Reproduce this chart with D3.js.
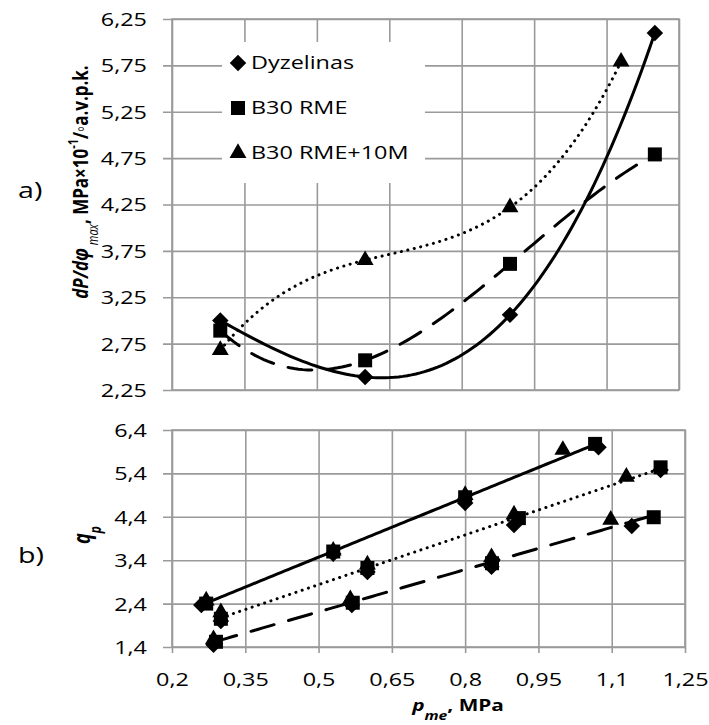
<!DOCTYPE html>
<html>
<head>
<meta charset="utf-8">
<script src="https://cdn.jsdelivr.net/npm/d3@7"></script>
<style>
  body { margin: 0; background: #fff; }
  text { font-family: "Open Sans", sans-serif; fill: #000; }
</style>
</head>
<body>
<div id="chart"></div>
<script>
// ---- data ----
const fuels = ["Dyzelinas", "B30 RME", "B30 RME+10M"];
const xTicks = [0.2, 0.35, 0.5, 0.65, 0.8, 0.95, 1.1, 1.25];
const topYTicks = [2.25, 2.75, 3.25, 3.75, 4.25, 4.75, 5.25, 5.75, 6.25];
const botYTicks = [1.4, 2.4, 3.4, 4.4, 5.4, 6.4];

// a) dP/dphi max
const topDyzX = [0.3, 0.6, 0.9, 1.2];
const topDyzY = [3.0, 2.39, 3.06, 6.10];
const topRmeX = [0.3, 0.6, 0.9, 1.2];
const topRmeY = [2.89, 2.57, 3.61, 4.79];
const topMX = [0.3, 0.6, 0.9, 1.13];
const topMY = [2.68, 3.65, 4.22, 5.79];

// b) q_p, three groups of points (upper / middle / lower line)
const upDyzX = [0.26, 0.53, 0.8, 1.073];
const upDyzY = [2.37, 3.55, 4.72, 6.0];
const upRmeX = [0.27, 0.53, 0.8, 1.066];
const upRmeY = [2.4, 3.6, 4.85, 6.08];
const upMX = [0.27, 0.53, 0.8, 1.0];
const upMY = [2.47, 3.62, 4.9, 5.94];

const midDyzX = [0.3, 0.6, 0.9, 1.2];
const midDyzY = [2.0, 3.13, 4.21, 5.48];
const midRmeX = [0.3, 0.6, 0.91, 1.2];
const midRmeY = [2.05, 3.22, 4.37, 5.54];
const midMX = [0.3, 0.6, 0.9, 1.13];
const midMY = [2.2, 3.3, 4.45, 5.32];

const lowDyzX = [0.285, 0.568, 0.854, 1.141];
const lowDyzY = [1.45, 2.37, 3.25, 4.19];
const lowRmeX = [0.29, 0.57, 0.855, 1.186];
const lowRmeY = [1.52, 2.42, 3.33, 4.39];
const lowMX = [0.285, 0.565, 0.854, 1.098];
const lowMY = [1.58, 2.5, 3.47, 4.33];

// ---- look ----
const SX = 1.3;          // text in the picture is drawn wide
const FS = 18;
const gridColor = "#9a9a9a";
const dash = { solid: null, dashed: "24 15", dotted: "0.1 6.5" };

const svg = d3.select("#chart").append("svg")
  .attr("width", 709).attr("height", 725);

const xTop = d3.scaleLinear().domain([0.2, 1.25]).range([172, 679]);
const yTop = d3.scaleLinear().domain([2.25, 6.25]).range([390, 19]);
const xBot = d3.scaleLinear().domain([0.2, 1.25]).range([172, 685]);
const yBot = d3.scaleLinear().domain([1.4, 6.4]).range([647, 430]);

const fmt = d => String(d).replace(".", ",");

// least squares polynomial (Excel-like trendline)
function polyfit(xs, ys, deg) {
  const n = deg + 1;
  const A = d3.range(n).map(i => {
    const row = d3.range(n).map(j => d3.sum(xs, x => Math.pow(x, i + j)));
    row.push(d3.sum(xs, (x, k) => ys[k] * Math.pow(x, i)));
    return row;
  });
  for (let c = 0; c < n; c++) {
    let p = c;
    for (let r = c + 1; r < n; r++) if (Math.abs(A[r][c]) > Math.abs(A[p][c])) p = r;
    [A[c], A[p]] = [A[p], A[c]];
    for (let r = 0; r < n; r++) {
      if (r === c) continue;
      const f = A[r][c] / A[c][c];
      for (let k = c; k <= n; k++) A[r][k] -= f * A[c][k];
    }
  }
  return d3.range(n).map(i => A[i][n] / A[i][i]);
}
const polyVal = (co, x) => co.reduce((s, c, i) => s + c * Math.pow(x, i), 0);

function stretchText(sel) {
  sel.each(function () {
    const t = d3.select(this);
    const x = +t.attr("x") || 0, y = +t.attr("y") || 0;
    t.attr("x", 0).attr("y", 0)
     .attr("transform", `translate(${x},${y}) scale(${SX},1)`);
  });
}

function marker(kind) {
  if (kind === 0) return d3.symbol(d3.symbolSquare, 136)();
  if (kind === 1) return d3.symbol(d3.symbolSquare, 196)();
  return d3.symbol(d3.symbolTriangle, 124)();
}
function drawMarkers(g, xs, ys, kind, xs_, ys_) {
  g.append("g").selectAll("path")
    .data(xs.map((x, i) => [x, ys[i]]))
    .join("path")
    .attr("d", marker(kind))
    .attr("fill", "#000")
    .attr("transform", d => `translate(${xs_(d[0])},${ys_(d[1])})` + (kind === 0 ? " rotate(45)" : ""));
}
function drawCurve(g, xs, ys, deg, style, xs_, ys_) {
  const co = polyfit(xs, ys, deg);
  const x0 = d3.min(xs), x1 = d3.max(xs);
  const pts = d3.range(0, 101).map(i => x0 + (x1 - x0) * i / 100);
  g.append("path")
    .attr("d", d3.line().x(x => xs_(x)).y(x => ys_(polyVal(co, x)))(pts))
    .attr("fill", "none")
    .attr("stroke", "#000")
    .attr("stroke-width", 3)
    .attr("stroke-linecap", "round")
    .attr("stroke-dasharray", dash[style]);
}

// ================= panel a =================
const ga = svg.append("g");
ga.append("g")
  .attr("transform", "translate(163,0)")
  .call(d3.axisLeft(yTop).tickValues(topYTicks).tickSize(-(679 - 163)).tickPadding(16).tickFormat(fmt))
  .call(a => a.select(".domain").remove())
  .call(a => a.selectAll("line").attr("stroke", gridColor).attr("stroke-width", 1.6))
  .call(a => a.selectAll("text").attr("font-size", FS).attr("font-family", "Open Sans").attr("dy", "0.36em").call(stretchText));
ga.append("g")
  .attr("transform", "translate(0,19)")
  .call(d3.axisBottom(xTop).tickValues(xTicks).tickSize(371).tickFormat(""))
  .call(a => a.select(".domain").remove())
  .call(a => a.selectAll("line").attr("stroke", gridColor).attr("stroke-width", 1.6));
ga.append("rect")
  .attr("x", 172).attr("y", 19).attr("width", 679 - 172).attr("height", 371)
  .attr("fill", "none").attr("stroke", gridColor).attr("stroke-width", 1.6);

// legend
const lg = ga.append("g");
lg.append("rect").attr("x", 222).attr("y", 42).attr("width", 203).attr("height", 141).attr("fill", "#fff");
fuels.forEach((f, i) => {
  const y = 63 + i * 45;
  lg.append("path").attr("d", marker(i)).attr("fill", "#000")
    .attr("transform", `translate(238,${y})` + (i === 0 ? " rotate(45)" : ""));
  lg.append("text").attr("x", 251).attr("y", y).attr("dy", "0.36em")
    .attr("font-size", FS).text(f).call(stretchText);
});

drawCurve(ga, topDyzX, topDyzY, 3, "solid", xTop, yTop);
drawCurve(ga, topRmeX, topRmeY, 3, "dashed", xTop, yTop);
drawCurve(ga, topMX, topMY, 3, "dotted", xTop, yTop);
drawMarkers(ga, topDyzX, topDyzY, 0, xTop, yTop);
drawMarkers(ga, topRmeX, topRmeY, 1, xTop, yTop);
drawMarkers(ga, topMX, topMY, 2, xTop, yTop);

// ================= panel b =================
const gb = svg.append("g");
gb.append("g")
  .attr("transform", "translate(163,0)")
  .call(d3.axisLeft(yBot).tickValues(botYTicks).tickSize(-(685 - 163)).tickPadding(16).tickFormat(fmt))
  .call(a => a.select(".domain").remove())
  .call(a => a.selectAll("line").attr("stroke", gridColor).attr("stroke-width", 1.6))
  .call(a => a.selectAll("text").attr("font-size", FS).attr("dy", "0.36em").call(stretchText));
gb.append("g")
  .attr("transform", "translate(0,430)")
  .call(d3.axisBottom(xBot).tickValues(xTicks).tickSize(223).tickPadding(20).tickFormat(fmt))
  .call(a => a.select(".domain").remove())
  .call(a => a.selectAll("line").attr("stroke", gridColor).attr("stroke-width", 1.6))
  .call(a => a.selectAll("text").attr("font-size", FS).call(stretchText));
gb.append("rect")
  .attr("x", 172).attr("y", 430).attr("width", 685 - 172).attr("height", 217)
  .attr("fill", "none").attr("stroke", gridColor).attr("stroke-width", 1.6);

const groups = [
  { style: "solid", sets: [[upDyzX, upDyzY], [upRmeX, upRmeY], [upMX, upMY]] },
  { style: "dotted", sets: [[midDyzX, midDyzY], [midRmeX, midRmeY], [midMX, midMY]] },
  { style: "dashed", sets: [[lowDyzX, lowDyzY], [lowRmeX, lowRmeY], [lowMX, lowMY]] }
];
groups.forEach(gr => {
  const allX = gr.sets.flatMap(s => s[0]);
  const allY = gr.sets.flatMap(s => s[1]);
  drawCurve(gb, allX, allY, 1, gr.style, xBot, yBot);
});
groups.forEach(gr => {
  gr.sets.forEach((s, k) => drawMarkers(gb, s[0], s[1], k, xBot, yBot));
});

// ================= labels =================
const ylab = svg.append("text")
  .attr("transform", `translate(88,182) scale(${SX},1) rotate(-90)`)
  .attr("text-anchor", "middle").attr("font-size", 17).attr("font-weight", "bold");
ylab.append("tspan").attr("font-style", "italic").text("dP/dφ");
ylab.append("tspan").attr("font-style", "italic").attr("font-weight", "normal").attr("font-size", 11).attr("baseline-shift", "sub").text(" max");
ylab.append("tspan").text(", MPa×10");
ylab.append("tspan").attr("font-size", 11).attr("baseline-shift", "super").text("-1");
ylab.append("tspan").text("/◦a.v.p.k.");

const qlab = svg.append("text")
  .attr("transform", `translate(90,535) scale(${SX},1) rotate(-90)`)
  .attr("text-anchor", "middle").attr("font-size", 18).attr("font-weight", "bold").attr("font-style", "italic");
qlab.append("tspan").text("q");
qlab.append("tspan").attr("font-size", 12).attr("baseline-shift", "sub").text("p");

const xlab = svg.append("text")
  .attr("transform", `translate(458,711) scale(${SX},1)`)
  .attr("text-anchor", "middle").attr("font-size", 16).attr("font-weight", "bold");
xlab.append("tspan").attr("font-style", "italic").text("p");
xlab.append("tspan").attr("font-style", "italic").attr("font-size", 12).attr("baseline-shift", "sub").text("me");
xlab.append("tspan").text(", MPa");

svg.append("text").attr("x", 18).attr("y", 198).attr("font-family", "Liberation Serif")
  .attr("font-size", 22).text("a)").call(stretchText);
svg.append("text").attr("x", 18).attr("y", 563).attr("font-family", "Liberation Serif")
  .attr("font-size", 22).text("b)").call(stretchText);
</script>
</body>
</html>
